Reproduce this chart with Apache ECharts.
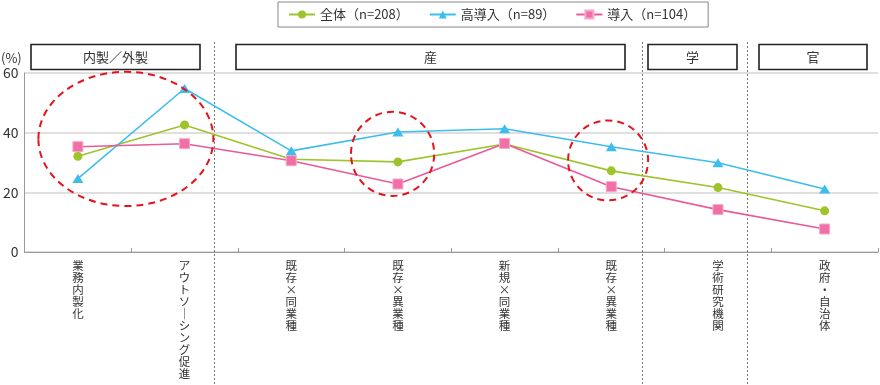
<!DOCTYPE html>
<html><head><meta charset="utf-8">
<script src="https://cdn.jsdelivr.net/npm/echarts@6/dist/echarts.min.js"></script>
<style>html,body{margin:0;padding:0;background:#fff}#c{width:880px;height:385px}</style>
</head><body><div id="c"></div>
<script>
const categories = ['業務内製化','アウトソーシング促進','既存×同業種','既存×異業種','新規×同業種','既存×異業種','学術研究機関','政府・自治体'];
const seriesNames = ['全体（n=208）','高導入（n=89）','導入（n=104）'];
const overall = [32.1, 42.6, 31.1, 30.2, 36.2, 27.2, 21.6, 13.8];
const high    = [24.6, 54.8, 33.9, 40.2, 41.3, 35.3, 29.9, 21.1];
const adopt   = [35.3, 36.3, 30.6, 22.8, 36.4, 21.9, 14.2, 7.7];
const yTicks = [0, 20, 40, 60];
const groupLabels = ['内製／外製', '産', '学', '官'];

// layout (pixels), not data
const groupBoxes = [[31,200],[236,625],[648,737],[759,867]];
const FONT = '"Noto Sans CJK JP","Noto Sans",sans-serif';

const chart = echarts.init(document.getElementById('c'), null, {renderer:'canvas'});
const vert = s => s.split('').map(ch => ch === 'ー' ? '｜' : ch).join('\n');

chart.setOption({
  animation:false,
  textStyle:{fontFamily:FONT},
  grid:{left:22, right:2, top:73, bottom:133, containLabel:false},
  legend:{
    top:2, left:278, itemWidth:26, itemHeight:10, itemGap:20,
    padding:[6,12,6,10], borderColor:'#888', borderWidth:1,
    textStyle:{fontFamily:FONT, fontSize:13, color:'#333'},
    data:seriesNames
  },
  xAxis:{
    type:'category', data:categories, boundaryGap:true,
    axisLine:{lineStyle:{color:'#999', width:1}},
    axisTick:{show:true, inside:true, length:4, lineStyle:{color:'#999'}},
    axisLabel:{interval:0, margin:8, fontSize:11.5, lineHeight:12, color:'#333', verticalAlign:'top',
      formatter:(v, i) => vert(categories[i])}
  },
  yAxis:{
    type:'value', min:yTicks[0], max:yTicks[yTicks.length-1], interval:20,
    axisLine:{show:true, lineStyle:{color:'#999'}},
    axisTick:{show:false},
    axisLabel:{fontSize:14, color:'#333', margin:6},
    splitLine:{lineStyle:{color:'#d4d4d4', width:1.5}}
  },
  series:[
    {name:seriesNames[0], type:'line', data:overall, symbol:'circle', symbolSize:9,
      itemStyle:{color:'#9dc42a'}, lineStyle:{color:'#9dc42a', width:1.6}, z:2},
    {name:seriesNames[1], type:'line', data:high, symbol:'triangle', symbolSize:[11,9],
      itemStyle:{color:'#3dbdec'}, lineStyle:{color:'#3dbdec', width:1.6}, z:3},
    {name:seriesNames[2], type:'line', data:adopt, symbol:'rect', symbolSize:10,
      itemStyle:{color:'#ef6fa6', borderColor:'#f6a9c8', borderWidth:1}, lineStyle:{color:'#e95a9a', width:1.6}, z:4}
  ]
});

// annotations derived from axes
const catX = i => chart.convertToPixel({xAxisIndex:0}, i);
const valY = v => chart.convertToPixel({yAxisIndex:0}, v);
const fx = f => { const i = Math.floor(f); return catX(i) + (f - i) * (catX(i+1) - catX(i)); };
const bandW = catX(1) - catX(0);
const pxPerUnit = valY(0) - valY(1);

const ellipses = [[0.45, 37.9, 0.82, 22.5],[2.95, 32.9, 0.39, 14.1],[4.97, 30.7, 0.375, 13.4]];
const separators = [1.276, 5.285, 6.276];

const g = [];
ellipses.forEach(e => g.push({type:'ellipse', z:10, silent:true,
  shape:{cx:fx(e[0]), cy:valY(e[1]), rx:e[2]*bandW, ry:e[3]*pxPerUnit},
  style:{fill:null, stroke:'#e3141b', lineWidth:2, lineDash:[7,5]}}));
separators.forEach(s => { const x = Math.round(fx(s)) + 0.5; g.push({type:'line', z:1, silent:true,
  shape:{x1:x, y1:42, x2:x, y2:385}, style:{stroke:'#777', lineWidth:1, lineDash:[2,2]}}); });
groupBoxes.forEach((b, k) => {
  g.push({type:'rect', z:5, shape:{x:b[0], y:44.5, width:b[1]-b[0], height:25},
    style:{fill:'#fff', stroke:'#222', lineWidth:1.6}});
  g.push({type:'text', z:6, x:(b[0]+b[1])/2, y:57,
    style:{text:groupLabels[k], fontFamily:FONT, fontSize:13, fill:'#333', align:'center', verticalAlign:'middle'}});
});
g.push({type:'text', x:1, y:58, style:{text:'(%)', fontFamily:FONT, fontSize:13, fill:'#333', verticalAlign:'middle'}});
chart.setOption({graphic:g});
</script></body></html>
